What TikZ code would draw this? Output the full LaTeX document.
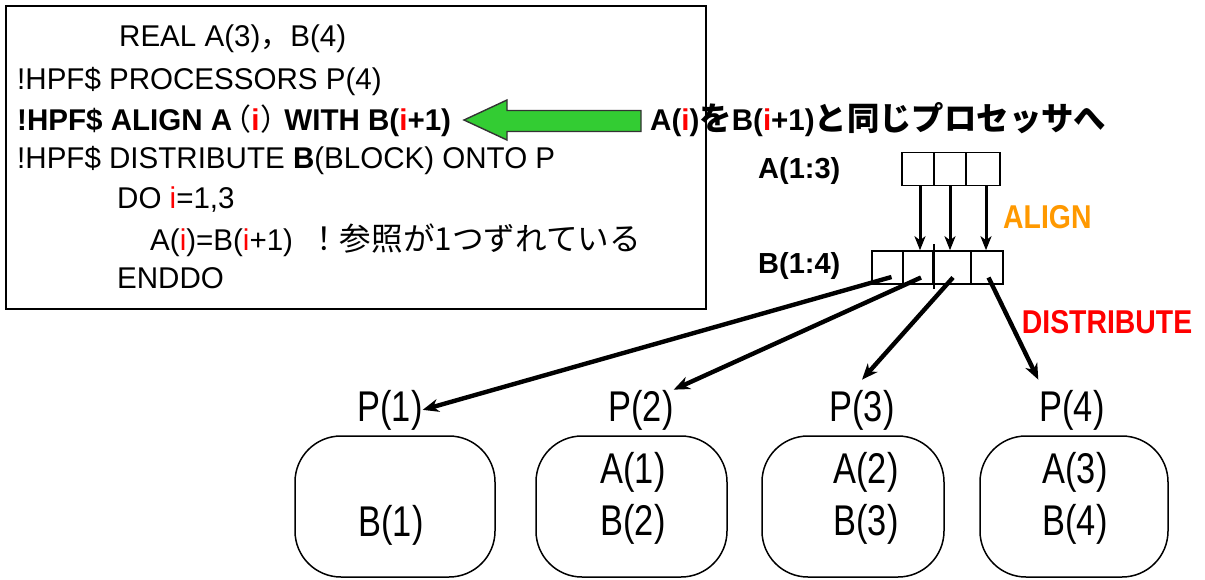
\documentclass[tikz,border=0pt]{standalone}
\usepackage{fontspec}
\setmainfont{Liberation Sans}
\newfontfamily\codef{Liberation Sans}[FakeStretch=0.985]
\newfontfamily\bigf{Liberation Sans}[FakeStretch=0.8]
\newfontfamily\lblf{Liberation Sans}[FakeStretch=1.0]
\newfontfamily\tagf{Liberation Sans}[FakeStretch=0.86]
\newfontfamily\jp{Noto Sans CJK JP}
\newfontfamily\jpp{Noto Sans CJK JP}[RawFeature=+palt]
\usetikzlibrary{arrows.meta,calc}
\definecolor{hpfred}{RGB}{255,0,0}
\definecolor{hpfgreen}{RGB}{51,204,51}
\definecolor{hpforange}{RGB}{255,153,0}
\newcommand\ri[1]{\textcolor{hpfred}{#1}}

\tikzset{
  codeline/.style={anchor=base west, inner sep=0pt, font=\codef\fontsize{30}{36}\selectfont},
  biglabel/.style={anchor=base, inner sep=0pt, font=\bigf\fontsize{43}{50}\selectfont},
  arrlabel/.style={anchor=base west, inner sep=0pt, font=\lblf\bfseries\fontsize{29}{34}\selectfont},
  taglabel/.style={anchor=base west, inner sep=0pt, font=\tagf\bfseries\fontsize{33}{38}\selectfont},
  cell/.style={draw, line width=1.6pt, minimum height=33pt, inner sep=0pt},
  procbox/.style={draw, line width=1.5pt, rounded corners=46pt, minimum height=141pt, inner sep=0pt},
  alignarrow/.style={line width=3pt, -{Stealth[length=14pt,width=11pt,inset=4pt]}},
  distarrow/.style={line width=4.4pt, -{Stealth[length=16pt,width=13pt,inset=5pt]}},
}

\begin{document}
\begin{tikzpicture}[x=1pt,y=-1pt]
\useasboundingbox[fill=white] (0,0) rectangle (1205,579);

% source listing
\node[draw, line width=1.5pt, minimum width=700pt, minimum height=303pt,
      anchor=north west, inner sep=0pt] (codebox) at (5,5) {};
\node[codeline] (l1) at (119,46.5) {REAL A(3){\jp ，}B(4)};
\node[codeline] (l2) at (17,89) {!HPF\$ PROCESSORS P(4)};
\node[codeline] (l3) at (17,130) {\bfseries !HPF\$ ALIGN A\kern3pt{\jpp\mdseries （}\kern1pt\ri{i}\kern2pt{\jpp\mdseries ）}\kern8pt WITH B(\ri{i}+1)};
\node[codeline] (l4) at (17,168) {!HPF\$ DISTRIBUTE \textbf{B}(BLOCK) ONTO P};
\node[codeline] (l5) at (117,208) {DO \ri{i}=1,3};
\node[codeline] (l6) at (150,250) {A(\ri{i})=B(\ri{i}+1)};
\node[anchor=base west, inner sep=0pt, font=\jp\fontsize{31.6}{36}\selectfont] (c6) at (308,250) {！参照が1つずれている};
\node[codeline] (l7) at (117,288) {ENDDO};

% explanation with block arrow
\node[codeline] (note) at (650,130) {\bfseries A(\ri{i}){\jp\bfseries\fontsize{32.4}{38}\selectfont を}B(\ri{i}+1){\jp\bfseries\fontsize{32.4}{38}\selectfont と同じプロセッサへ}};
\filldraw[fill=hpfgreen, draw=black!80, line width=1.4pt, line join=miter]
  (464,120) -- (507,100) -- (507,110.5) -- (641,110.5) -- (641,131.5)
  -- (507,131.5) -- (507,140) -- cycle;

% arrays A and B
\node[arrlabel] (alab) at (758,178) {A(1:3)};
\node[arrlabel] (blab) at (758,273.3) {B(1:4)};
\node[cell, minimum width=32pt] (a1) at (918,169) {};
\node[cell, minimum width=32pt] (a2) at (950,169) {};
\node[cell, minimum width=34pt] (a3) at (983,169) {};
\node[cell, minimum width=31pt] (b1) at (887.5,267.5) {};
\node[cell, minimum width=30pt] (b2) at (918,267.5) {};
\node[cell, minimum width=38pt] (b3) at (952,267.5) {};
\node[cell, minimum width=32pt] (b4) at (987,267.5) {};
\draw[line width=1.5pt] ($(b2.north east)+(0,-6)$) -- ($(b2.south east)+(0,4)$);

\path (a1.south) ++(2,0) coordinate (s1)
      (a2.south) coordinate (s2)
      (a3.south) ++(3,0) coordinate (s3);
\draw[alignarrow] (s1) -- (s1 |- b2.north);
\draw[alignarrow] (s2) -- (s2 |- b3.north);
\draw[alignarrow] (s3) -- (s3 |- b4.north);
\node[taglabel, text=hpforange] (align) at (1003,228.3) {ALIGN};
\node[taglabel, text=hpfred] (dist) at (1021.7,333.3) {DISTRIBUTE};

% processors
\node[biglabel] (p1) at (390,421) {P(1)};
\node[biglabel] (p2) at (641,421) {P(2)};
\node[biglabel] (p3) at (862,421) {P(3)};
\node[biglabel] (p4) at (1072,421) {P(4)};

\node[procbox, minimum width=200pt] (q1) at (395,506.5) {};
\node[procbox, minimum width=191pt] (q2) at (631.5,506.5) {};
\node[procbox, minimum width=182pt] (q3) at (853,506.5) {};
\node[procbox, minimum width=188pt] (q4) at (1074,506.5) {};

\node[biglabel] (q1b) at (391,536) {B(1)};
\node[biglabel] (q2a) at (633,483) {A(1)};
\node[biglabel] (q2b) at (633,535) {B(2)};
\node[biglabel] (q3a) at (866,483) {A(2)};
\node[biglabel] (q3b) at (866,535) {B(3)};
\node[biglabel] (q4a) at (1075,483) {A(3)};
\node[biglabel] (q4b) at (1075,535) {B(4)};

% distribution of B over the processors
\path (b1.center) ++(4,9.5) coordinate (t1)
      (b2.center) ++(3,10) coordinate (t2)
      (b3.center) ++(1,10) coordinate (t3)
      (b4.center) ++(1.5,10) coordinate (t4);
\draw[distarrow] (t1) -- (p1.east);
\draw[distarrow] (t2) -- (p2.north east);
\draw[distarrow] (t3) -- ($(p3.north)+(0,-10)$);
\draw[distarrow] (t4) -- ($(p4.north west)+(-1,-10)$);
\end{tikzpicture}
\end{document}
